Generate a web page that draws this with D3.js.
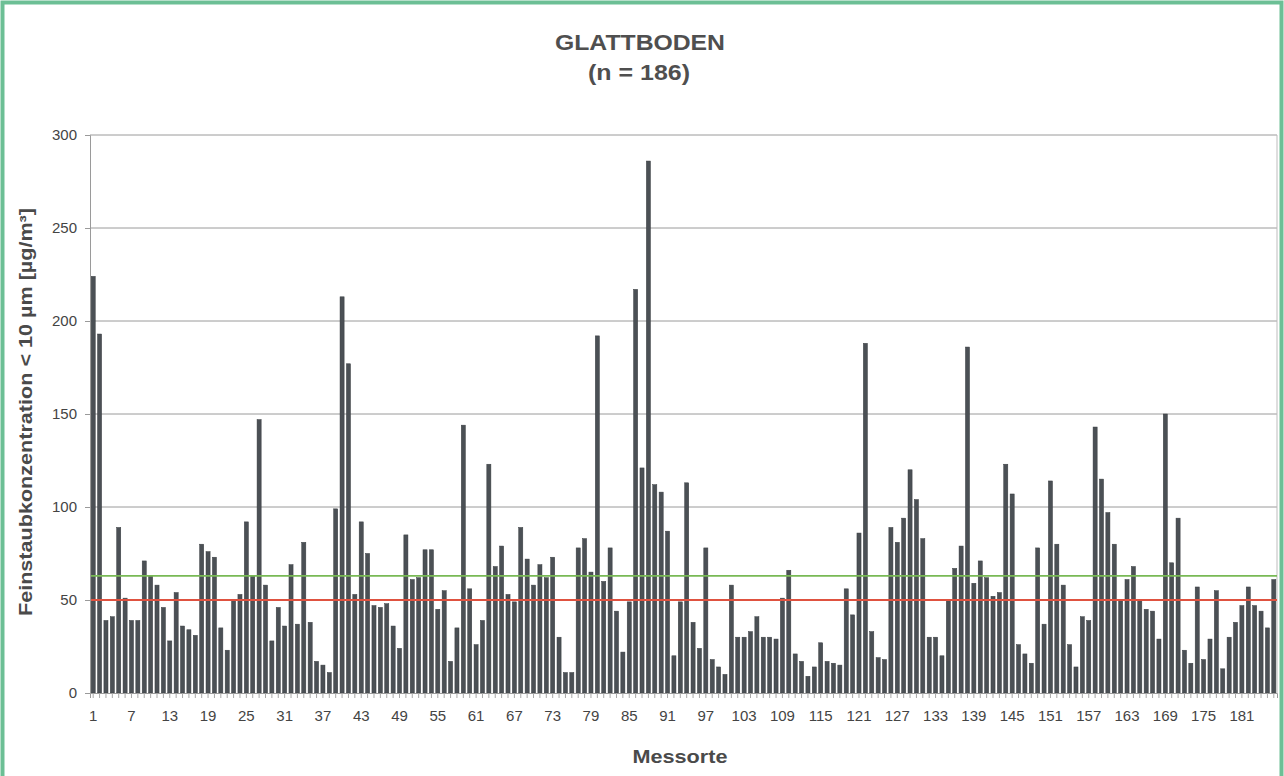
<!DOCTYPE html>
<html><head><meta charset="utf-8">
<script src="https://cdn.jsdelivr.net/npm/d3@7"></script>
<style>
html,body{margin:0;padding:0;background:#fff;}
svg{display:block;font-family:"Liberation Sans",Arial,sans-serif;}
</style></head>
<body>
<svg id="chart" width="1284" height="776"></svg>
<script>
// ---- data ----
const title = "GLATTBODEN";
const subtitle = "(n = 186)";
const yLabel = "Feinstaubkonzentration < 10 µm [µg/m³]";
const xLabel = "Messorte";
const values = [
224,193,39,41,89,51,39,39,71,63,58,46,28,54,36,34,31,80,76,73,
35,23,50,53,92,63,147,58,28,46,36,69,37,81,38,17,15,11,99,213,
177,53,92,75,47,46,48,36,24,85,61,62,77,77,45,55,17,35,144,56,
26,39,123,68,79,53,49,89,72,58,69,62,73,30,11,11,78,83,65,192,
60,78,44,22,49,217,121,286,112,108,87,20,49,113,38,24,78,18,14,10,
58,30,30,33,41,30,30,29,51,66,21,17,9,14,27,17,16,15,56,42,
86,188,33,19,18,89,81,94,120,104,83,30,30,20,50,67,79,186,59,71,
62,52,54,123,107,26,21,16,78,37,114,80,58,26,14,41,39,143,115,97,
80,50,61,68,50,45,44,29,150,70,94,23,16,57,18,29,55,13,30,38,
47,57,47,44,35,61];
const sites = values.map((d,i)=>i+1);
const yTicks = [0,50,100,150,200,250,300];
const xTickLabels = d3.range(1,187,6);
const refLines = [{name:"Mittelwert", value:63, color:"#78b955"},
                  {name:"Grenzwert", value:50, color:"#df5240"}];

// ---- layout ----
const svg = d3.select("#chart");
const W = 1284, H = 776;
const m = {left:90, right:1277, top:135, bottom:693};

// frame
svg.append("rect").attr("x",2.5).attr("y",2.5).attr("width",W-5).attr("height",H+10)
  .attr("fill","#fff").attr("stroke","#6cbf95").attr("stroke-width",4);

const x = d3.scaleBand().domain(sites).range([m.left,m.right]).paddingInner(0.36).paddingOuter(0.18);
const y = d3.scaleLinear().domain([0,300]).range([m.bottom,m.top]);

// gridlines
svg.append("g").selectAll("line").data(yTicks.filter(d=>d>0)).join("line")
  .attr("x1",m.left).attr("x2",m.right)
  .attr("y1",d=>y(d)).attr("y2",d=>y(d))
  .attr("stroke","#9a9a9a").attr("stroke-width",1);

// right border of plot area
svg.append("line").attr("x1",m.right).attr("x2",m.right).attr("y1",m.top).attr("y2",m.bottom)
  .attr("stroke","#bdbdbd").attr("stroke-width",1);

// bars
svg.append("g").selectAll("rect").data(values).join("rect")
  .attr("x",(d,i)=>x(sites[i]))
  .attr("width",x.bandwidth())
  .attr("y",d=>y(d))
  .attr("height",d=>y(0)-y(d))
  .attr("fill","#4b5055")
  .attr("stroke","#383c40").attr("stroke-width",0.5);

// reference lines
svg.append("g").selectAll("line").data(refLines).join("line")
  .attr("x1",m.left).attr("x2",m.right)
  .attr("y1",d=>y(d.value)).attr("y2",d=>y(d.value))
  .attr("stroke",d=>d.color).attr("stroke-width",1.8);

// y axis
const yAxis = d3.axisLeft(y).tickValues(yTicks).tickSize(5).tickPadding(8);
const gy = svg.append("g").attr("transform",`translate(${m.left},0)`).call(yAxis);
gy.select(".domain").attr("stroke","#9a9a9a");
gy.selectAll(".tick line").attr("stroke","#9a9a9a");
gy.selectAll("text").attr("font-size",15).attr("fill","#444")
  .attr("font-family","'Liberation Sans',Arial,sans-serif");

// x axis
const xAxis = d3.axisBottom(x).tickSize(5).tickPadding(12)
  .tickFormat(d=> xTickLabels.includes(d) ? d : "");
const gx = svg.append("g").attr("transform",`translate(0,${m.bottom})`).call(xAxis);
gx.select(".domain").attr("stroke","#9a9a9a");
gx.selectAll(".tick line").attr("stroke","#a8a8a8");
gx.selectAll("text").attr("font-size",15).attr("fill","#444")
  .attr("font-family","'Liberation Sans',Arial,sans-serif");

// titles
svg.append("text").attr("x",640).attr("y",50).attr("text-anchor","middle")
  .attr("font-size",22).attr("font-weight","bold").attr("fill","#4f4f4f")
  .attr("textLength",170).attr("lengthAdjust","spacingAndGlyphs").text(title);
svg.append("text").attr("x",639).attr("y",80).attr("text-anchor","middle")
  .attr("font-size",22).attr("font-weight","bold").attr("fill","#4f4f4f")
  .attr("textLength",102).attr("lengthAdjust","spacingAndGlyphs").text(subtitle);

svg.append("text").attr("transform","translate(32,412) rotate(-90)")
  .attr("text-anchor","middle").attr("font-size",18).attr("font-weight","bold")
  .attr("fill","#4a4a4a").attr("textLength",408).attr("lengthAdjust","spacingAndGlyphs")
  .text(yLabel);

svg.append("text").attr("x",680).attr("y",763).attr("text-anchor","middle")
  .attr("font-size",19).attr("font-weight","bold").attr("fill","#4a4a4a")
  .attr("textLength",95).attr("lengthAdjust","spacingAndGlyphs").text(xLabel);
</script>
</body></html>
